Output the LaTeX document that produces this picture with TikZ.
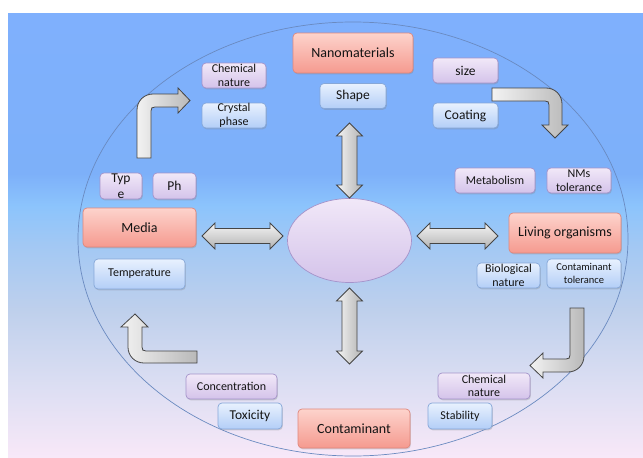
\documentclass[tikz,border=0pt]{standalone}
\usepackage{fontspec}
\setmainfont{Carlito}
\usetikzlibrary{shapes.geometric,shadows}
\definecolor{bgtop}{HTML}{7FB0FD}
\definecolor{bgA}{HTML}{7DB0F9}
\definecolor{bgB}{HTML}{8CC4FC}
\definecolor{bgC}{HTML}{A2C8F4}
\definecolor{bgD}{HTML}{BFD0EC}
\definecolor{bgE}{HTML}{D9DDF2}
\definecolor{bgbot}{HTML}{F8E8F8}
\definecolor{ellline}{HTML}{6A8AC0}
\definecolor{redtop}{HTML}{FDD3CC}
\definecolor{redbot}{HTML}{F59A8F}
\definecolor{redline}{HTML}{E0877C}
\definecolor{purtop}{HTML}{F1E8F8}
\definecolor{purbot}{HTML}{D4C3EA}
\definecolor{purline}{HTML}{A493CA}
\definecolor{blutop}{HTML}{E8F1FE}
\definecolor{blubot}{HTML}{B3CEF7}
\definecolor{bluline}{HTML}{86A7D8}
\definecolor{txt}{HTML}{141414}
\definecolor{arrline}{HTML}{454545}
\pgfdeclareverticalshading{bgshade}{100bp}{color(0bp)=(bgbot); color(25bp)=(bgbot);
  color(34bp)=(bgE); color(41.5bp)=(bgD); color(49bp)=(bgC); color(53.3bp)=(bgB);
  color(57bp)=(bgA); color(75bp)=(bgtop); color(100bp)=(bgtop)}
\begin{document}
\begin{tikzpicture}[x=1pt,y=-1pt,
  boxbase/.style={rounded corners=4pt, line width=0.7pt, align=center, inner sep=0pt,
    text=txt, drop shadow={shadow xshift=0.8pt,shadow yshift=-1.3pt,opacity=0.3}},
  redbox/.style={boxbase, top color=redtop, bottom color=redbot, draw=redline,
    font=\fontsize{14}{16}\selectfont},
  purbox/.style={boxbase, top color=purtop, bottom color=purbot, draw=purline,
    font=\fontsize{12}{13.5}\selectfont},
  blubox/.style={boxbase, top color=blutop, bottom color=blubot, draw=bluline,
    font=\fontsize{12}{13.5}\selectfont},
  bigtext/.style={font=\fontsize{13.5}{15.5}\selectfont},
  smalltext/.style={font=\fontsize{10.5}{12.5}\selectfont},
  harr/.style={draw=arrline, line width=0.8pt, top color=gray!8, bottom color=gray!60},
  varr/.style={draw=arrline, line width=0.8pt, left color=gray!8, right color=gray!60},
  barr/.style={draw=arrline, line width=0.8pt, left color=gray!10, right color=gray!55},
]
\useasboundingbox (0,0) rectangle (643,458);
\shade[shading=bgshade] (8,13) rectangle (643,458);
\draw[ellline, line width=0.7pt] (353,239) ellipse [x radius=275, y radius=217];

% centre
\node[ellipse, minimum width=124pt, minimum height=84pt, inner sep=0pt,
  top color=purtop, bottom color=purbot, draw=purline, line width=0.7pt] (core) at (349.5,240.5) {};

% nanomaterials group
\node[redbox, minimum width=120pt, minimum height=40pt] (nano) at (353,53) {Nanomaterials};
\node[blubox, bigtext, minimum width=66pt, minimum height=25pt] (shape) at (353,96) {Shape};
\node[purbox, minimum width=64pt, minimum height=25pt] (chemA) at (234,75.5) {Chemical\\nature};
\node[blubox, minimum width=64pt, minimum height=25pt] (crys) at (234,115.5) {Crystal\\phase};
\node[purbox, bigtext, minimum width=65pt, minimum height=25pt] (size) at (465.5,70.5) {size};
\node[blubox, bigtext, minimum width=65pt, minimum height=25pt] (coat) at (465.5,115.5) {Coating};

% media group
\node[purbox, font=\fontsize{13.5}{16}\selectfont, minimum width=42pt, minimum height=26pt] (type) at (121,186) {Typ\\e};
\node[purbox, bigtext, minimum width=43pt, minimum height=26pt] (ph) at (174.5,186) {Ph};
\node[redbox, minimum width=113pt, minimum height=39pt] (media) at (139.5,227.5) {Media};
\node[blubox, minimum width=91pt, minimum height=30pt] (temp) at (139.5,274) {Temperature};

% living organisms group
\node[purbox, minimum width=80pt, minimum height=25pt] (metab) at (495,180.5) {Metabolism};
\node[purbox, minimum width=64pt, minimum height=25pt] (nmstol) at (579,180.5) {NMs\\tolerance};
\node[redbox, minimum width=112pt, minimum height=40pt] (living) at (565,233) {Living organisms};
\node[blubox, minimum width=63pt, minimum height=25pt] (bio) at (508.5,275.5) {Biological\\nature};
\node[blubox, smalltext, minimum width=74pt, minimum height=29pt] (conttol) at (584,273.5) {Contaminant\\tolerance};

% contaminant group
\node[purbox, minimum width=91pt, minimum height=25pt] (conc) at (231.5,386.5) {Concentration};
\node[blubox, bigtext, minimum width=64pt, minimum height=26pt] (tox) at (250,416) {Toxicity};
\node[redbox, minimum width=112pt, minimum height=39pt] (cont) at (354,428.5) {Contaminant};
\node[purbox, minimum width=92pt, minimum height=26pt] (chemB) at (484,386) {Chemical\\nature};
\node[blubox, minimum width=64pt, minimum height=26pt] (stab) at (460,416) {Stability};

% double arrows
\path[harr] (202,236) -- (215,223) -- (215,228.5) -- (270,228.5) -- (270,223) -- (283,236)
  -- (270,249) -- (270,243.5) -- (215,243.5) -- (215,249) -- cycle;
\path[harr] (417,236) -- (430,223) -- (430,228.5) -- (485,228.5) -- (485,223) -- (498,236)
  -- (485,249) -- (485,243.5) -- (430,243.5) -- (430,249) -- cycle;
\path[varr] (349.5,123) -- (362.5,136) -- (357,136) -- (357,185) -- (362.5,185) -- (349.5,198)
  -- (336.5,185) -- (342,185) -- (342,136) -- (336.5,136) -- cycle;
\path[varr] (349.5,288) -- (362.5,301) -- (357,301) -- (357,351) -- (362.5,351) -- (349.5,364)
  -- (336.5,351) -- (342,351) -- (342,301) -- (336.5,301) -- cycle;

% bent arrows
\path[barr] (137,158) -- (137,110) .. controls (137,101) and (144,94) .. (153,94) -- (178,94)
  -- (178,88) -- (190,100.5) -- (178,113) -- (178,107) -- (155,107)
  .. controls (152,107) and (151,108) .. (151,111) -- (151,158) -- cycle;
\path[barr] (492,88) -- (546,88) .. controls (555,88) and (562,95) .. (562,104) -- (562,125)
  -- (568,125) -- (555,138) -- (542,125) -- (549,125) -- (549,105)
  .. controls (549,102) and (548,101) .. (545,101) -- (492,101) -- cycle;
\path[barr] (135,314) -- (148,327) -- (142,327) -- (142,347)
  .. controls (142,350) and (143,351) .. (146,351) -- (197,351) -- (197,363) -- (144,363)
  .. controls (135,363) and (128,356) .. (128,347) -- (128,327) -- (121,327) -- cycle;
\path[barr] (570,308) -- (584,308) -- (584,356) .. controls (584,365) and (577,372) .. (568,372)
  -- (543,372) -- (543,378) -- (530,365.5) -- (543,353) -- (543,359) -- (566,359)
  .. controls (569,359) and (570,358) .. (570,355) -- cycle;
\end{tikzpicture}
\end{document}
